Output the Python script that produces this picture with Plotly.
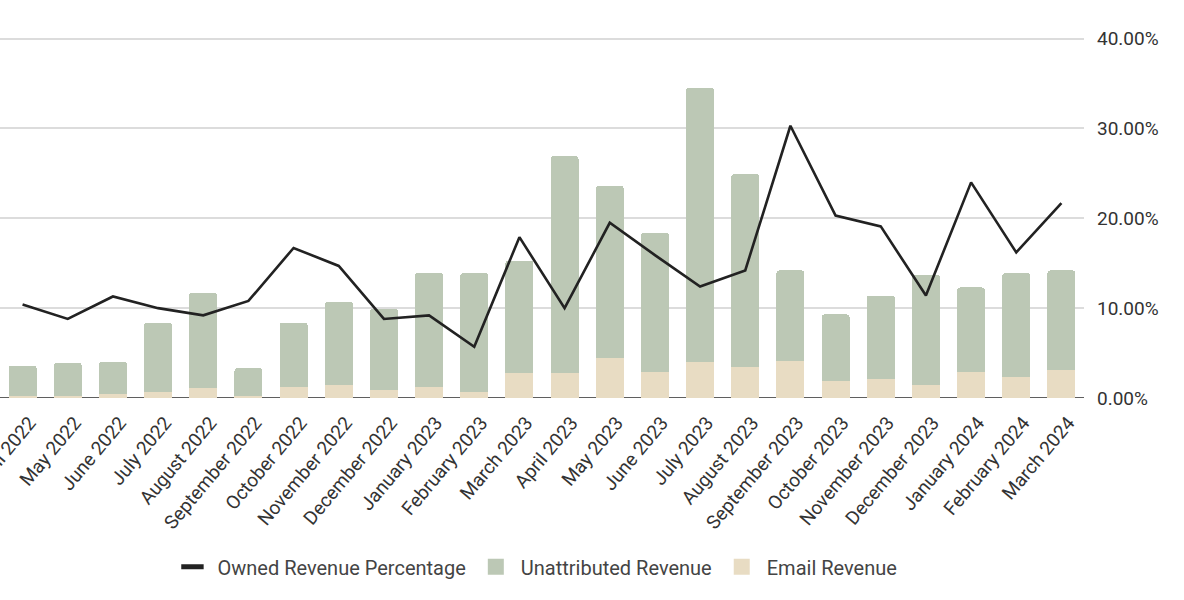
import plotly.graph_objects as go

months = ["April 2022", "May 2022", "June 2022", "July 2022", "August 2022", "September 2022",
          "October 2022", "November 2022", "December 2022", "January 2023", "February 2023",
          "March 2023", "April 2023", "May 2023", "June 2023", "July 2023", "August 2023",
          "September 2023", "October 2023", "November 2023", "December 2023", "January 2024",
          "February 2024", "March 2024"]

# revenue (arbitrary units, left axis hidden)
email_revenue = [0.2, 0.2, 0.4, 0.7, 1.1, 0.2, 1.2, 1.5, 0.9, 1.2, 0.7, 2.8,
                 2.8, 4.5, 2.9, 4.0, 3.5, 4.1, 1.9, 2.1, 1.5, 2.9, 2.3, 3.1]
total_revenue = [3.6, 3.9, 4.0, 8.4, 11.7, 3.3, 8.4, 10.7, 9.9, 13.9, 13.9, 15.3,
                 26.9, 23.6, 18.4, 34.5, 24.9, 14.2, 9.3, 11.4, 13.7, 12.3, 13.9, 14.2]
unattributed_revenue = [round(t - e, 2) for t, e in zip(total_revenue, email_revenue)]

owned_pct = [10.4, 8.8, 11.3, 10.0, 9.2, 10.8, 16.7, 14.7, 8.8, 9.2, 5.7, 17.9,
             10.0, 19.5, 15.9, 12.4, 14.2, 30.3, 20.3, 19.1, 11.4, 24.0, 16.2, 21.7]
owned_pct = [v / 100 for v in owned_pct]

LINE_C = "#222222"
GREEN = "#bcc8b5"
BEIGE = "#e8dcc3"

fig = go.Figure()
fig.add_trace(go.Bar(x=months, y=email_revenue, name="Email Revenue",
                     marker=dict(color=BEIGE, line=dict(width=0)), showlegend=False))
fig.add_trace(go.Bar(x=months, y=unattributed_revenue, name="Unattributed Revenue",
                     marker=dict(color=GREEN, line=dict(width=0)), showlegend=False))
fig.add_trace(go.Scatter(x=months, y=owned_pct, name="Owned Revenue Percentage",
                         mode="lines", line=dict(color=LINE_C, width=2.6),
                         yaxis="y2", showlegend=False))

# legend entries
fig.add_trace(go.Scatter(x=[None], y=[None], mode="markers", name="Owned Revenue Percentage",
                         marker=dict(symbol="line-ew", size=16, color=LINE_C,
                                     line=dict(width=5, color=LINE_C))))
fig.add_trace(go.Scatter(x=[None], y=[None], mode="markers", name="Unattributed Revenue",
                         marker=dict(symbol="square", size=16, color=GREEN)))
fig.add_trace(go.Scatter(x=[None], y=[None], mode="markers", name="Email Revenue",
                         marker=dict(symbol="square", size=16, color=BEIGE)))

fig.add_shape(type="line", xref="paper", x0=0, x1=1, yref="y", y0=0, y1=0,
              line=dict(color="#5f5f5f", width=2), layer="below")

fig.update_layout(
    width=1184, height=600,
    margin=dict(l=0, r=100, t=35, b=202, autoexpand=False),
    paper_bgcolor="white", plot_bgcolor="white",
    barmode="stack", bargap=0.38, barcornerradius=3,
    font=dict(family="Roboto", color="#333333"),
    showlegend=True,
    legend=dict(orientation="h", x=0.4935, xanchor="center", y=-0.465, yanchor="middle",
                font=dict(size=20, color="#444444"), traceorder="normal",
                itemsizing="trace", itemwidth=40),
    xaxis=dict(tickangle=-50, tickfont=dict(size=19, color="#333333"),
               showgrid=False, showline=False, ticks="", range=[-0.5, 23.5],
               automargin=False, ticklabelstandoff=9, ticklabelshift=7),
    yaxis=dict(range=[0, 40.4], showticklabels=False, showgrid=True,
               gridcolor="#dcdcdc", gridwidth=1.6, tickvals=[0, 10, 20, 30, 40],
               zeroline=False, ticks="", automargin=False),
    yaxis2=dict(range=[0, 0.404], overlaying="y", side="right", tickformat=".2%",
                tickvals=[0, 0.1, 0.2, 0.3, 0.4], showgrid=False, zeroline=False,
                tickfont=dict(size=19, color="#333333"), ticks="", automargin=False,
                ticklabelstandoff=12),
)

fig.write_html("out.html", config={"displayModeBar": False},
               post_script="document.body.style.margin='0';document.body.style.overflow='hidden';")
